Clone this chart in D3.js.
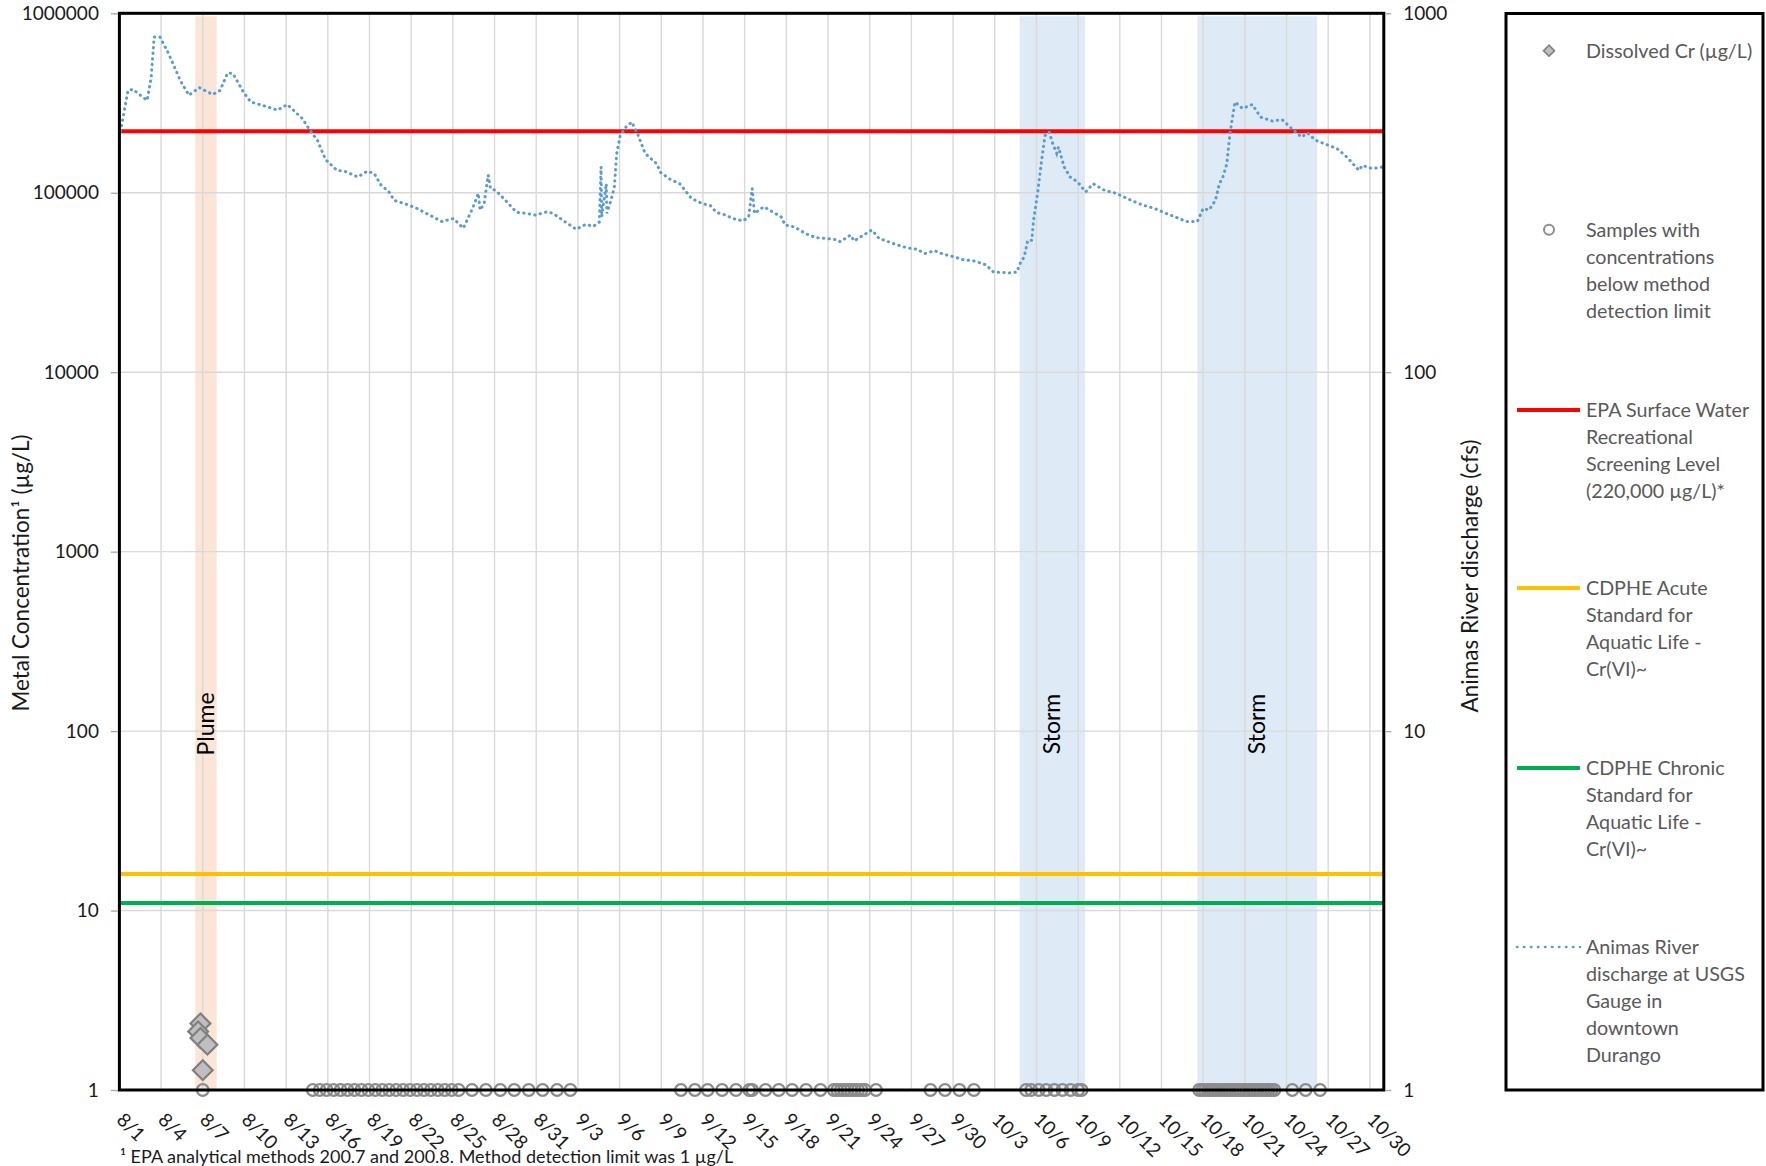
<!DOCTYPE html>
<html>
<head>
<meta charset="utf-8">
<script src="https://cdn.jsdelivr.net/npm/d3@7"></script>
<style>
  body { margin: 0; background: #fff; }
  svg { display: block; }
  text { font-family: Lato, "Open Sans", "Noto Sans", sans-serif; }
</style>
</head>
<body>
<svg id="chart" width="1766" height="1166"></svg>
<script>
// ---- Data -------------------------------------------------------------
const YEAR = 2015;

const dateTicks = ["8/1","8/4","8/7","8/10","8/13","8/16","8/19","8/22","8/25","8/28","8/31",
  "9/3","9/6","9/9","9/12","9/15","9/18","9/21","9/24","9/27","9/30",
  "10/3","10/6","10/9","10/12","10/15","10/18","10/21","10/24","10/27","10/30"];
const concTicks = [1, 10, 100, 1000, 10000, 100000, 1000000];
const flowTicks = [1, 10, 100, 1000];

// Animas River discharge at the Durango USGS gauge (cfs)
const flowTimes = ["8/1 02:00","8/1 15:00","8/2 00:00","8/2 08:00","8/2 16:00","8/3 00:00","8/3 07:00","8/3 12:00","8/3 22:00","8/4 13:00",
  "8/5 09:00","8/6 00:00","8/6 18:00","8/7 17:00","8/8 06:00","8/8 19:00","8/9 04:00","8/9 22:00","8/10 11:00","8/11 17:00",
  "8/12 09:00","8/13 02:00","8/14 04:00","8/14 17:00","8/15 06:00","8/15 20:00","8/16 16:00","8/17 05:00","8/18 04:00","8/18 20:00",
  "8/19 08:00","8/19 20:00","8/20 09:00","8/20 19:00","8/21 15:00","8/22 10:00","8/23 06:00","8/24 05:00","8/25 01:00","8/25 18:00",
  "8/26 10:00","8/26 20:00","8/26 23:00","8/27 06:00","8/27 13:00","8/27 17:00","8/28 02:00","8/28 19:00","8/29 14:00","8/30 07:00",
  "8/30 23:00","8/31 19:00","9/1 05:00","9/1 22:00","9/2 21:00","9/3 13:00","9/4 03:00","9/4 13:00","9/4 16:00","9/4 17:00",
  "9/5 01:00","9/5 02:00","9/5 09:00","9/5 15:00","9/5 19:00","9/6 01:00","9/6 11:00","9/6 21:00","9/7 07:00","9/7 20:00",
  "9/8 16:00","9/8 23:00","9/9 15:00","9/10 08:00","9/11 04:00","9/11 23:00","9/12 13:00","9/12 23:00","9/13 15:00","9/14 04:00",
  "9/14 21:00","9/15 07:00","9/15 13:00","9/15 17:00","9/16 09:00","9/16 22:00","9/17 15:00","9/17 22:00","9/18 14:00","9/19 10:00",
  "9/20 03:00","9/20 19:00","9/21 15:00","9/21 21:00","9/22 15:00","9/22 21:00","9/23 13:00","9/24 04:00","9/24 16:00","9/25 05:00",
  "9/25 21:00","9/26 17:00","9/27 10:00","9/27 23:00","9/28 16:00","9/29 08:00","9/30 00:00","9/30 17:00","10/1 13:00","10/2 09:00",
  "10/2 22:00","10/3 11:00","10/4 00:00","10/4 14:00","10/4 20:00","10/5 03:00","10/5 09:00","10/5 16:00","10/5 19:00","10/6 02:00",
  "10/6 09:00","10/6 15:00","10/6 22:00","10/7 04:00","10/7 11:00","10/7 14:00","10/8 00:00","10/8 10:00","10/8 23:00","10/9 13:00",
  "10/10 02:00","10/10 22:00","10/11 18:00","10/12 20:00","10/13 16:00","10/14 12:00","10/15 08:00","10/16 07:00","10/16 18:00","10/17 14:00",
  "10/18 00:00","10/18 10:00","10/18 21:00","10/19 04:00","10/19 10:00","10/19 17:00","10/19 21:00","10/20 00:00","10/20 07:00","10/20 20:00",
  "10/21 13:00","10/22 03:00","10/22 23:00","10/23 16:00","10/24 09:00","10/25 02:00","10/25 12:00","10/26 02:00","10/26 19:00","10/27 15:00",
  "10/28 08:00","10/29 05:00","10/29 11:00","10/30 04:00","10/30 21:00"];
const flowCfs = [469,610,614,598,585,572,665,859,859,772,
  651,591,621,594,610,682,680,604,566,548,
  537,557,509,472,443,391,365,363,350,363,
  358,332,319,301,294,286,275,263,268,252,
  286,315,283,295,354,325,321,301,279,277,
  274,280,277,265,250,258,255,262,373,271,
  335,277,301,328,407,457,482,498,462,407,
  381,360,345,335,305,295,291,279,274,268,
  264,271,325,277,289,281,271,257,254,243,
  237,236,234,231,241,232,241,249,236,232,
  227,222,220,214,218,213,210,206,204,199,
  190,190,189,190,201,210,233,233,265,315,
  390,457,467,434,407,424,373,350,339,318,
  335,321,315,301,292,286,277,268,263,263,
  286,283,301,335,350,381,443,482,566,543,
  557,514,501,506,477,452,464,443,432,420,
  398,365,377,369,373];

// Detected dissolved chromium (µg/L)
const crTimes = ["8/6 20:00","8/6 16:00","8/6 20:00","8/7 08:00","8/7 00:00"];
const crValues = [2.35, 2.12, 1.95, 1.79, 1.29];

// Samples below the method detection limit, plotted at the limit
const detectionLimit = 1;
const ndTimes = ["8/7 00:00",
  "8/14 22:00","8/15 10:00","8/15 22:00","8/16 10:00","8/16 22:00","8/17 10:00","8/17 22:00","8/18 10:00","8/18 22:00","8/19 10:00",
  "8/19 22:00","8/20 10:00","8/20 22:00","8/21 10:00","8/21 22:00","8/22 10:00","8/22 22:00","8/23 10:00","8/23 22:00","8/24 10:00",
  "8/24 22:00","8/25 10:00",
  "8/26 09:00","8/27 09:00","8/28 10:00","8/29 10:00","8/30 11:00","8/31 11:00","9/1 12:00","9/2 11:00",
  "9/10 10:00","9/11 10:00","9/12 08:00","9/13 09:00","9/14 09:00","9/15 08:00","9/15 13:00","9/16 12:00","9/17 11:00","9/18 10:00",
  "9/19 10:00","9/20 11:00",
  "9/21 10:00","9/21 16:00","9/21 22:00","9/22 04:00","9/22 10:00","9/22 16:00","9/22 22:00","9/23 04:00","9/23 10:00","9/23 16:00",
  "9/24 11:00",
  "9/28 09:00","9/29 10:00","9/30 11:00","10/1 12:00",
  "10/5 06:00","10/5 15:00","10/6 04:00","10/6 17:00","10/7 07:00","10/7 21:00","10/8 11:00","10/9 00:00","10/9 06:00",
  "10/17 17:00","10/17 22:00","10/18 03:00","10/18 08:00","10/18 13:00","10/18 17:00","10/18 22:00","10/19 03:00","10/19 08:00","10/19 13:00",
  "10/19 17:00","10/19 22:00","10/20 03:00","10/20 08:00","10/20 13:00","10/20 17:00","10/20 22:00","10/21 03:00","10/21 08:00","10/21 13:00",
  "10/21 17:00","10/21 22:00","10/22 03:00","10/22 08:00","10/22 13:00","10/22 17:00","10/22 22:00","10/23 03:00",
  "10/24 10:00","10/25 09:00","10/26 10:00"];

// Screening levels and standards (µg/L)
const epaLevel = 220000;
const acuteCr6 = 16;
const chronicCr6 = 11;

// Shaded event periods
const bandNames = ["Plume", "Storm", "Storm"];
const bandStarts = ["8/6 11:00", "10/4 19:00", "10/17 14:00"];
const bandEnds = ["8/8 00:00", "10/9 12:00", "10/26 05:00"];

const legendItems = [
  { key: "cr", lines: ["Dissolved Cr (µg/L)"] },
  { key: "nd", lines: ["Samples with", "concentrations", "below method", "detection limit"] },
  { key: "epa", lines: ["EPA Surface Water", "Recreational", "Screening Level", "(220,000 µg/L)*"] },
  { key: "acute", lines: ["CDPHE Acute", "Standard for", "Aquatic Life -", "Cr(VI)~"] },
  { key: "chronic", lines: ["CDPHE Chronic", "Standard for", "Aquatic Life -", "Cr(VI)~"] },
  { key: "flow", lines: ["Animas River", "discharge at USGS", "Gauge in", "downtown", "Durango"] }
];

// ---- Helpers ----------------------------------------------------------
const parseFull = d3.timeParse("%m/%d/%Y %H:%M");
function toDate(s) {
  const [md, hm] = s.split(" ");
  return parseFull(`${md}/${YEAR} ${hm || "00:00"}`);
}

// ---- Layout -----------------------------------------------------------
const svg = d3.select("#chart");
const plot = { left: 119.4, right: 1383.8, top: 13.3, bottom: 1090 };
const colors = {
  grid: "#D9D9D9", plume: "#FBE5D6", storm: "#DEEBF7",
  epa: "#FF0000", acute: "#FFC000", chronic: "#00B050",
  flow: "#5B9BD5", markerFill: "#BFBFBF", markerStroke: "#7F7F7F",
  ink: "#1a1a1a", legendText: "#595959"
};

const x = d3.scaleTime()
  .domain([toDate("8/1"), toDate("10/31")])
  .range([plot.left, plot.right]);
const yConc = d3.scaleLog().domain([1, 1e6]).range([plot.bottom, plot.top]);
const yFlow = d3.scaleLog().domain([1, 1000]).range([plot.bottom, plot.top]);

// Event bands
const bands = bandNames.map((name, i) => ({ name, start: toDate(bandStarts[i]), end: toDate(bandEnds[i]) }));
svg.append("g").selectAll("rect").data(bands).join("rect")
  .attr("x", d => x(d.start))
  .attr("width", d => x(d.end) - x(d.start))
  .attr("y", plot.top + 3)
  .attr("height", plot.bottom - plot.top - 3)
  .attr("fill", d => d.name === "Plume" ? colors.plume : colors.storm);

// Gridlines
const grid = svg.append("g").attr("stroke", colors.grid).attr("stroke-width", 1.4);
grid.selectAll("line.h").data(concTicks).join("line")
  .attr("x1", plot.left).attr("x2", plot.right)
  .attr("y1", d => yConc(d)).attr("y2", d => yConc(d));
grid.selectAll("line.v").data(dateTicks.slice(1)).join("line")
  .attr("x1", d => x(toDate(d))).attr("x2", d => x(toDate(d)))
  .attr("y1", plot.top).attr("y2", plot.bottom);

// Reference levels
const refs = [
  { v: epaLevel, c: colors.epa },
  { v: acuteCr6, c: colors.acute },
  { v: chronicCr6, c: colors.chronic }
];
svg.append("g").selectAll("line").data(refs).join("line")
  .attr("x1", plot.left).attr("x2", plot.right)
  .attr("y1", d => yConc(d.v)).attr("y2", d => yConc(d.v))
  .attr("stroke", d => d.c).attr("stroke-width", 4);

// Discharge (right axis)
const flow = flowTimes.map((t, i) => ({ t: toDate(t), v: flowCfs[i] }));
svg.append("path")
  .datum(flow)
  .attr("fill", "none")
  .attr("stroke", colors.flow)
  .attr("stroke-width", 3)
  .attr("stroke-linecap", "round")
  .attr("stroke-dasharray", "0.4 5.2")
  .attr("d", d3.line().x(d => x(d.t)).y(d => yFlow(d.v)));

// Band labels
svg.append("g").selectAll("text").data(bands).join("text")
  .attr("transform", d => `translate(${(x(d.start) + x(d.end)) / 2},${724}) rotate(-90)`)
  .attr("text-anchor", "middle")
  .attr("dy", "0.35em")
  .attr("font-size", 23)
  .attr("fill", "#000")
  .text(d => d.name);

// Non-detect samples
svg.append("g").selectAll("circle").data(ndTimes).join("circle")
  .attr("cx", d => x(toDate(d)))
  .attr("cy", yConc(detectionLimit))
  .attr("r", 5.8)
  .attr("fill", "none")
  .attr("stroke", "#8C8C8C")
  .attr("stroke-width", 2.2);

// Detected chromium
const diamond = d3.symbol(d3.symbolSquare, 196);
svg.append("g").selectAll("path").data(crTimes.map((t, i) => ({ t: toDate(t), v: crValues[i] }))).join("path")
  .attr("d", diamond)
  .attr("transform", d => `translate(${x(d.t)},${yConc(d.v)}) rotate(45)`)
  .attr("fill", colors.markerFill)
  .attr("stroke", colors.markerStroke)
  .attr("stroke-width", 2.2);

// Plot frame
svg.append("rect")
  .attr("x", plot.left).attr("y", plot.top)
  .attr("width", plot.right - plot.left).attr("height", plot.bottom - plot.top)
  .attr("fill", "none").attr("stroke", "#000").attr("stroke-width", 3);

// Left axis
const leftAxis = svg.append("g")
  .attr("transform", `translate(${plot.left - 1.5},0)`)
  .call(d3.axisLeft(yConc).tickValues(concTicks).tickFormat(d3.format("d")).tickSize(7).tickPadding(12));
leftAxis.select(".domain").remove();
leftAxis.selectAll(".tick line").attr("stroke", "#A6A6A6").attr("stroke-width", 1.3);
leftAxis.selectAll(".tick text").attr("font-size", 19).attr("fill", colors.ink)
  .attr("font-family", "Lato, 'Open Sans', sans-serif");

// Right axis
const rightAxis = svg.append("g")
  .attr("transform", `translate(${plot.right + 1.5},0)`)
  .call(d3.axisRight(yFlow).tickValues(flowTicks).tickFormat(d3.format("d")).tickSize(6).tickPadding(12));
rightAxis.select(".domain").remove();
rightAxis.selectAll(".tick line").attr("stroke", "#A6A6A6").attr("stroke-width", 1.3);
rightAxis.selectAll(".tick text").attr("font-size", 19).attr("fill", colors.ink)
  .attr("font-family", "Lato, 'Open Sans', sans-serif");

// Date labels, slanted
svg.append("g").selectAll("text").data(dateTicks).join("text")
  .attr("transform", d => `translate(${x(toDate(d)) - 4},${plot.bottom + 31}) rotate(45)`)
  .attr("font-size", 19)
  .attr("fill", colors.ink)
  .text(d => d);

// Axis titles
svg.append("text")
  .attr("transform", `translate(${29},${573}) rotate(-90)`)
  .attr("text-anchor", "middle")
  .attr("font-size", 22.5)
  .attr("fill", colors.ink)
  .text("Metal Concentration¹ (µg/L)");
svg.append("text")
  .attr("transform", `translate(${1478},${576}) rotate(-90)`)
  .attr("text-anchor", "middle")
  .attr("font-size", 22.5)
  .attr("fill", colors.ink)
  .text("Animas River discharge (cfs)");

// Footnote
svg.append("text")
  .attr("x", 120).attr("y", 1163)
  .attr("font-size", 18)
  .attr("fill", colors.ink)
  .text("¹ EPA analytical methods 200.7 and 200.8. Method detection limit was 1 µg/L");

// Legend
const legend = svg.append("g");
legend.append("rect")
  .attr("x", 1506).attr("y", 13.5).attr("width", 257).attr("height", 1076.5)
  .attr("fill", "#fff").attr("stroke", "#000").attr("stroke-width", 3);

const legendRows = [50.7, 229.8, 410, 588, 768, 947];
const lineH = 27;
const sampleX1 = 1517, sampleX2 = 1580, textX = 1586, markX = 1549;

legendItems.forEach((item, i) => {
  const y0 = legendRows[i];
  const g = legend.append("g");
  if (item.key === "cr") {
    g.append("path").attr("d", d3.symbol(d3.symbolSquare, 60))
      .attr("transform", `translate(${markX},${y0}) rotate(45)`)
      .attr("fill", colors.markerFill).attr("stroke", colors.markerStroke).attr("stroke-width", 1.6);
  } else if (item.key === "nd") {
    g.append("circle").attr("cx", markX).attr("cy", y0).attr("r", 5)
      .attr("fill", "none").attr("stroke", "#8C8C8C").attr("stroke-width", 2);
  } else if (item.key === "flow") {
    g.append("line").attr("x1", sampleX1).attr("x2", sampleX2).attr("y1", y0).attr("y2", y0)
      .attr("stroke", colors.flow).attr("stroke-width", 2.6)
      .attr("stroke-linecap", "round").attr("stroke-dasharray", "0.4 6.6");
  } else {
    g.append("line").attr("x1", sampleX1).attr("x2", sampleX2).attr("y1", y0).attr("y2", y0)
      .attr("stroke", colors[item.key]).attr("stroke-width", 4);
  }
  g.selectAll("text").data(item.lines).join("text")
    .attr("x", textX)
    .attr("y", (d, j) => y0 + j * lineH)
    .attr("dy", "0.35em")
    .attr("font-size", 19.7)
    .attr("fill", colors.legendText)
    .text(d => d);
});
</script>
</body>
</html>
